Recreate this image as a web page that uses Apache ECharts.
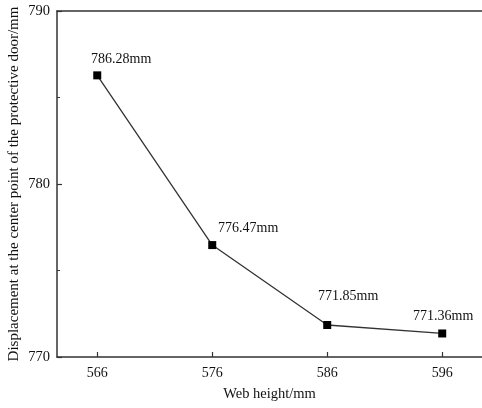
<!DOCTYPE html>
<html>
<head>
<meta charset="utf-8">
<script src="https://cdn.jsdelivr.net/npm/echarts@6/dist/echarts.min.js"></script>
<style>
html,body{margin:0;padding:0;background:#fff;}
#c{width:482px;height:408px;}
</style>
</head>
<body>
<div id="c"></div>
<script>
var webHeights = [566, 576, 586, 596];
var displacements = [786.28, 776.47, 771.85, 771.36];
var pointLabels = ['786.28mm', '776.47mm', '771.85mm', '771.36mm'];
var xTickValues = [566, 576, 586, 596];
var xTitle = 'Web height/mm';
var yTitle = 'Displacement at the center point of the protective door/mm';

var labelOffsets = [[24, 0], [36, -1], [21, -13], [1, -1]];
var FONT = '"Liberation Serif", "Times New Roman", serif';

var data = webHeights.map(function (x, i) {
  return {
    value: [x, displacements[i]],
    label: {
      show: true,
      position: 'top',
      offset: labelOffsets[i],
      formatter: pointLabels[i],
      fontFamily: FONT,
      fontSize: 14,
      color: '#111'
    }
  };
});

var chart = echarts.init(document.getElementById('c'), null, {renderer: 'canvas'});
chart.setOption({
  animation: false,
  backgroundColor: '#fff',
  grid: {left: 57, top: 11, right: 0, bottom: 51, containLabel: false, outerBoundsMode: 'none'},
  xAxis: [{
    type: 'value',
    min: 562.5,
    max: 599.46,
    position: 'bottom',
    name: xTitle,
    nameLocation: 'middle',
    nameGap: 30,
    nameMoveOverlap: false,
    nameTextStyle: {fontFamily: FONT, fontSize: 14.5, color: '#111'},
    axisLine: {show: true, onZero: false, lineStyle: {color: '#333', width: 1.5}},
    axisTick: {show: true, inside: true, length: 5, customValues: xTickValues, lineStyle: {color: '#333', width: 1.2}},
    axisLabel: {show: true, customValues: xTickValues, margin: 9, fontFamily: FONT, fontSize: 14, color: '#111'},
    splitLine: {show: false}
  }, {
    type: 'value',
    min: 562.5,
    max: 599.46,
    position: 'top',
    axisLine: {show: true, onZero: false, lineStyle: {color: '#333', width: 1.5}},
    axisTick: {show: false},
    axisLabel: {show: false},
    splitLine: {show: false}
  }],
  yAxis: {
    type: 'value',
    min: 770,
    max: 790,
    interval: 10,
    name: yTitle,
    nameLocation: 'middle',
    nameGap: 35,
    nameMoveOverlap: false,
    nameTextStyle: {fontFamily: FONT, fontSize: 15, color: '#111'},
    axisLine: {show: true, onZero: false, lineStyle: {color: '#333', width: 1.5}},
    axisTick: {show: true, inside: true, length: 5, lineStyle: {color: '#333', width: 1.2}},
    minorTick: {show: true, splitNumber: 2, length: 3, lineStyle: {color: '#333', width: 1}},
    axisLabel: {margin: 7, fontFamily: FONT, fontSize: 14.5, color: '#111'},
    splitLine: {show: false}
  },
  series: [{
    type: 'line',
    data: data,
    symbol: 'rect',
    symbolSize: 8,
    itemStyle: {color: '#000'},
    lineStyle: {color: '#333', width: 1.3}
  }]
});
</script>
</body>
</html>
